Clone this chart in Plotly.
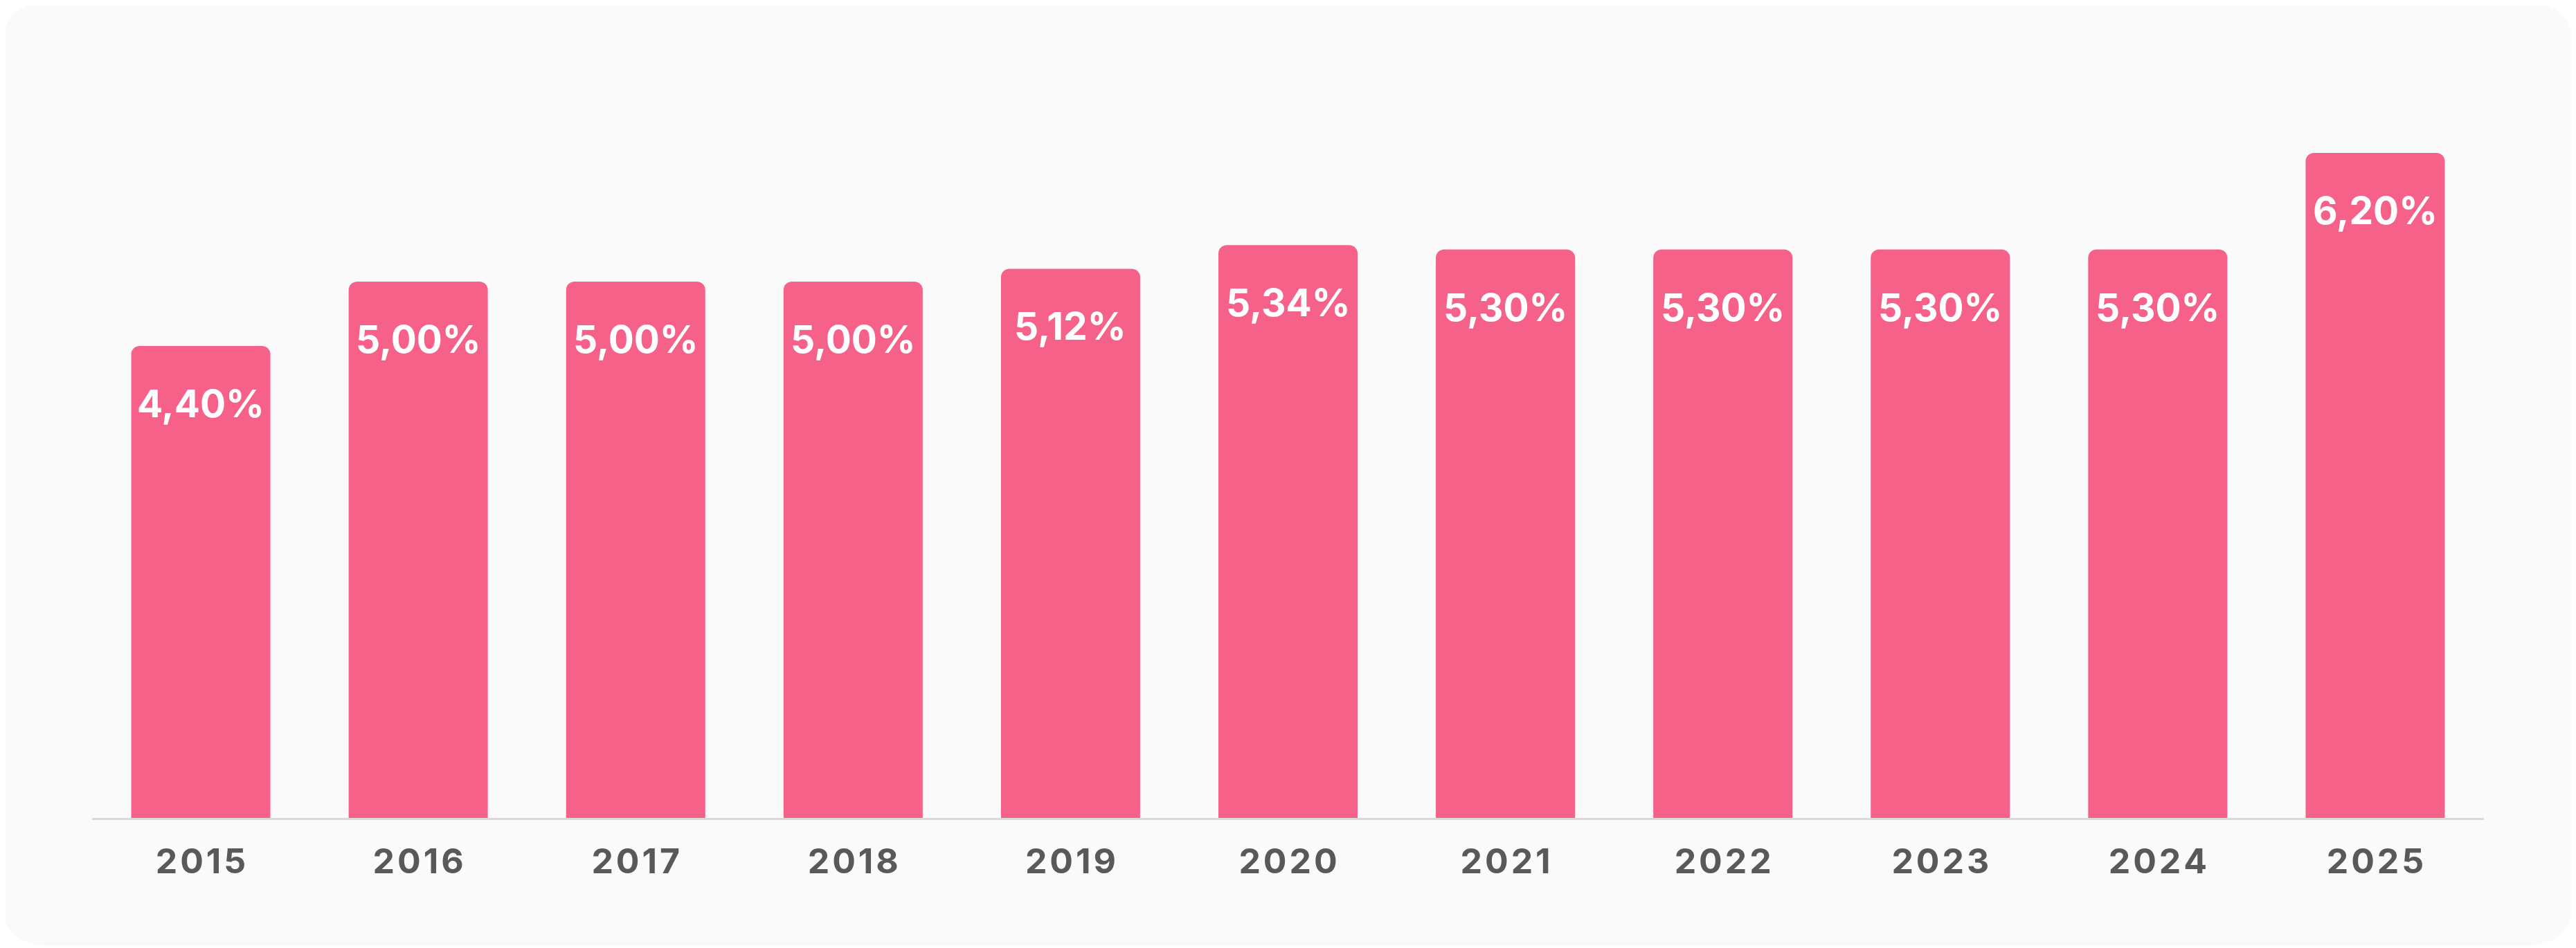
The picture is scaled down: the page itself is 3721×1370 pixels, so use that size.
import plotly.graph_objects as go

# Chart data
years = ['2015', '2016', '2017', '2018', '2019', '2020',
         '2021', '2022', '2023', '2024', '2025']
rates = [4.40, 5.00, 5.00, 5.00, 5.12, 5.34, 5.30, 5.30, 5.30, 5.30, 6.20]

# Labels in the original (comma decimal) format
value_labels = [f"{r:.2f}%".replace('.', ',') for r in rates]
tick_labels = ['\u200a'.join(y) for y in years]

W, H = 3721, 1370
# the page puts the figure 8px in from the top-left, so margins are compensated
L, R, T, B = 125, 141, 89, 196
pw, ph = W - L - R, H - T - B


def to_paper(px, py):
    """Pixel position in the figure -> paper coordinates."""
    return (px - L) / pw, (H - B - py) / ph


def rounded_card(x0, y0, x1, y1, rad):
    def p(x, y):
        xp, yp = to_paper(x, y)
        return f"{xp:.5f},{yp:.5f}"
    return (f"M {p(x0 + rad, y0)} L {p(x1 - rad, y0)} Q {p(x1, y0)} {p(x1, y0 + rad)} "
            f"L {p(x1, y1 - rad)} Q {p(x1, y1)} {p(x1 - rad, y1)} "
            f"L {p(x0 + rad, y1)} Q {p(x0, y1)} {p(x0, y1 - rad)} "
            f"L {p(x0, y0 + rad)} Q {p(x0, y0)} {p(x0 + rad, y0)} Z")


fig = go.Figure()
fig.add_trace(go.Bar(
    x=years, y=rates,
    marker=dict(color='#F66189', cornerradius=12, line=dict(width=0)),
    hoverinfo='skip',
))

# Value labels inside each bar, near its top (x given as category index)
for i, (rate, label) in enumerate(zip(rates, value_labels)):
    fig.add_annotation(
        x=i, y=rate, text=label, showarrow=False,
        yanchor='middle', yshift=-83,
        font=dict(family='Inter', size=55, color='white', weight=700),
    )

fig.add_shape(
    type='path', xref='paper', yref='paper', layer='below',
    path=rounded_card(-6, -5, 3709, 1359, 70),
    fillcolor='#FAFAFA', line=dict(width=0),
)

fig.update_layout(
    width=W, height=H,
    margin=dict(l=L, r=R, t=T, b=B),
    paper_bgcolor='white', plot_bgcolor='rgba(0,0,0,0)',
    bargap=0.36, showlegend=False,
    xaxis=dict(
        type='category', range=[-0.5, len(years) - 0.5],
        tickvals=years, ticktext=tick_labels, tickangle=0,
        showline=True, linecolor='#D9D9D9', linewidth=3,
        showgrid=False, ticks='', ticklabelstandoff=17,
        tickfont=dict(family='Inter', size=50, color='#595959', weight=700),
    ),
    yaxis=dict(range=[0, 7], visible=False, showgrid=False, zeroline=False),
)

fig.write_html("out.html")
